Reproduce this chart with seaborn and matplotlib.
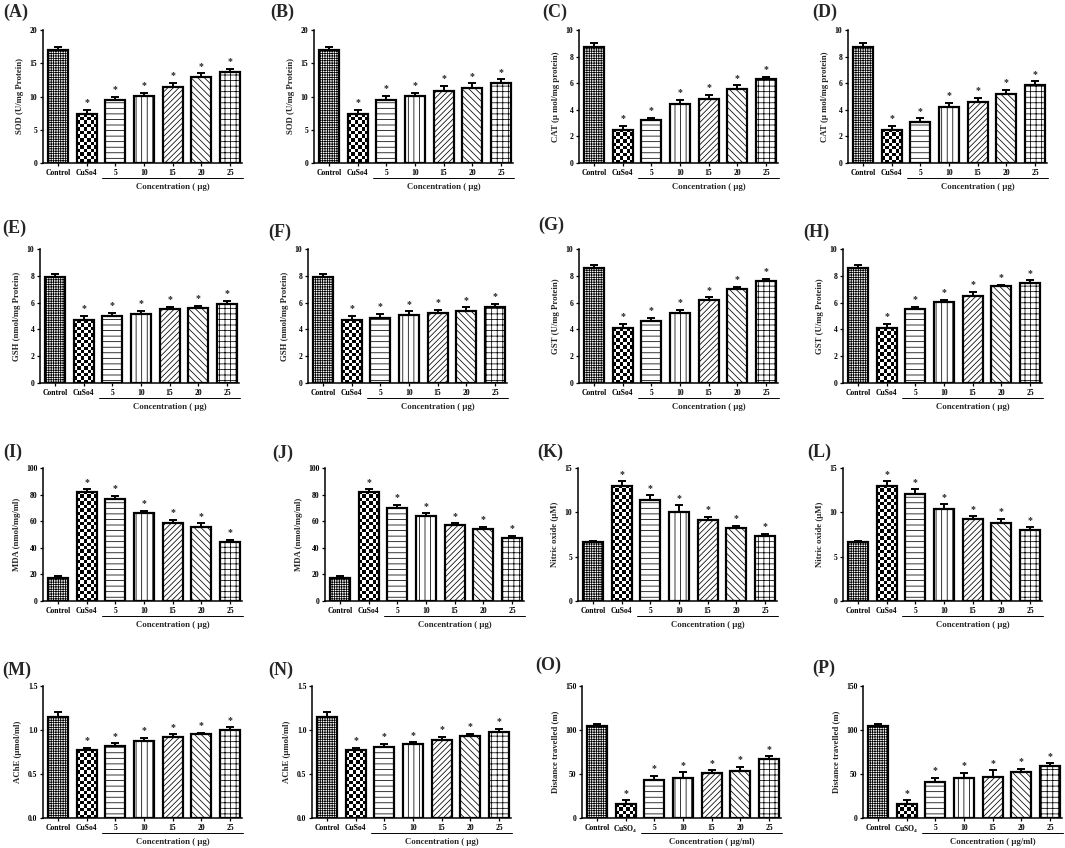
import matplotlib
matplotlib.use('Agg')
import matplotlib.pyplot as plt
import matplotlib.transforms as mtransforms
import seaborn as sns
import numpy as np
import pandas as pd

#----------------------------------------------------
groups = ['Control', 'CuSo4', '5', '10', '15', '20', '25']
groups_so4 = ['Control', 'CuSO$_4$', '5', '10', '15', '20', '25']

sod_a = [17.0, 7.4, 9.5, 10.1, 11.5, 13.0, 13.7]
sod_a_err = [0.5, 0.6, 0.5, 0.5, 0.6, 0.5, 0.5]
sod_b = [17.0, 7.4, 9.5, 10.1, 10.9, 11.3, 12.0]
sod_b_err = [0.5, 0.6, 0.6, 0.5, 0.7, 0.7, 0.6]

cat_c = [8.7, 2.5, 3.25, 4.4, 4.8, 5.6, 6.3]
cat_c_err = [0.3, 0.3, 0.15, 0.35, 0.35, 0.25, 0.2]
cat_d = [8.7, 2.5, 3.1, 4.2, 4.6, 5.2, 5.9]
cat_d_err = [0.3, 0.3, 0.25, 0.3, 0.3, 0.3, 0.25]

gsh_e = [7.9, 4.7, 5.0, 5.15, 5.5, 5.6, 5.9]
gsh_e_err = [0.25, 0.3, 0.25, 0.25, 0.2, 0.15, 0.25]
gsh_f = [7.9, 4.7, 4.85, 5.1, 5.2, 5.4, 5.65]
gsh_f_err = [0.25, 0.3, 0.3, 0.25, 0.25, 0.25, 0.25]

gst_g = [8.6, 4.1, 4.6, 5.2, 6.2, 7.0, 7.6]
gst_g_err = [0.2, 0.3, 0.25, 0.25, 0.2, 0.2, 0.15]
gst_h = [8.6, 4.1, 5.55, 6.05, 6.5, 7.25, 7.5]
gst_h_err = [0.2, 0.3, 0.15, 0.15, 0.3, 0.1, 0.15]

mda_i = [17, 82, 76.5, 66, 59, 56, 44]
mda_i_err = [2, 2, 2.5, 2, 2, 2.5, 2]
mda_j = [17, 82, 70, 64, 57, 54, 47]
mda_j_err = [2, 2, 2.5, 2, 1.5, 2, 2]

no_k = [6.6, 13.0, 11.4, 10.0, 9.1, 8.2, 7.3]
no_k_err = [0.2, 0.5, 0.5, 0.8, 0.4, 0.3, 0.3]
no_l = [6.6, 13.0, 12.1, 10.4, 9.3, 8.8, 8.0]
no_l_err = [0.2, 0.5, 0.5, 0.5, 0.25, 0.45, 0.3]

ache_m = [1.15, 0.77, 0.82, 0.88, 0.92, 0.95, 1.0]
ache_m_err = [0.05, 0.03, 0.03, 0.03, 0.03, 0.02, 0.03]
ache_n = [1.15, 0.77, 0.81, 0.84, 0.89, 0.93, 0.98]
ache_n_err = [0.05, 0.03, 0.03, 0.02, 0.03, 0.03, 0.03]

dist_o = [104, 16, 43, 46, 51, 53, 67]
dist_o_err = [3, 4, 5, 6, 3, 5, 3]
dist_p = [104, 16, 41, 45, 47, 52, 59]
dist_p_err = [3, 4, 5, 6, 7, 4, 3]

conc_ug = 'Concentration ( μg)'
conc_ugml = 'Concentration ( μg/ml)'

# label, means, errs, ylabel, yticks, tick fmt, xtick labels, conc text
panels = [
	('(A)', sod_a, sod_a_err, 'SOD (U/mg Protein)', [0, 5, 10, 15, 20], '{:.0f}', groups, conc_ug),
	('(B)', sod_b, sod_b_err, 'SOD (U/mg Protein)', [0, 5, 10, 15, 20], '{:.0f}', groups, conc_ug),
	('(C)', cat_c, cat_c_err, 'CAT (μ mol/mg protein)', [0, 2, 4, 6, 8, 10], '{:.0f}', groups, conc_ug),
	('(D)', cat_d, cat_d_err, 'CAT (μ mol/mg protein)', [0, 2, 4, 6, 8, 10], '{:.0f}', groups, conc_ug),
	('(E)', gsh_e, gsh_e_err, 'GSH (nmol/mg Protein)', [0, 2, 4, 6, 8, 10], '{:.0f}', groups, conc_ug),
	('(F)', gsh_f, gsh_f_err, 'GSH (nmol/mg Protein)', [0, 2, 4, 6, 8, 10], '{:.0f}', groups, conc_ug),
	('(G)', gst_g, gst_g_err, 'GST (U/mg Protein)', [0, 2, 4, 6, 8, 10], '{:.0f}', groups, conc_ug),
	('(H)', gst_h, gst_h_err, 'GST (U/mg Protein)', [0, 2, 4, 6, 8, 10], '{:.0f}', groups, conc_ug),
	('(I)', mda_i, mda_i_err, 'MDA (nmol/mg/ml)', [0, 20, 40, 60, 80, 100], '{:.0f}', groups, conc_ug),
	('(J)', mda_j, mda_j_err, 'MDA (nmol/mg/ml)', [0, 20, 40, 60, 80, 100], '{:.0f}', groups, conc_ug),
	('(K)', no_k, no_k_err, 'Nitric oxide (μM)', [0, 5, 10, 15], '{:.0f}', groups, conc_ug),
	('(L)', no_l, no_l_err, 'Nitric oxide (μM)', [0, 5, 10, 15], '{:.0f}', groups, conc_ug),
	('(M)', ache_m, ache_m_err, 'AChE (μmol/ml)', [0, 0.5, 1.0, 1.5], '{:.1f}', groups, conc_ug),
	('(N)', ache_n, ache_n_err, 'AChE (μmol/ml)', [0, 0.5, 1.0, 1.5], '{:.1f}', groups, conc_ug),
	('(O)', dist_o, dist_o_err, 'Distance travelled (m)', [0, 50, 100, 150], '{:.0f}', groups_so4, conc_ugml),
	('(P)', dist_p, dist_p_err, 'Distance travelled (m)', [0, 50, 100, 150], '{:.0f}', groups_so4, conc_ugml),
]

#----------------------------------------------------
W, H = 1065, 848
col_left = [[43, 314, 579, 848], [40, 308, 579, 843], [43, 325, 578, 843], [43, 312, 582, 863]]
row_tb = [(30, 163), (249, 383), (468, 601), (686, 818)]
lab_pos = [[(3, 12), (270, 12), (542, 12), (812, 12)],
	[(2, 228), (268, 232), (538, 225), (803, 232)],
	[(3, 452), (272, 453), (537, 452), (807, 452)],
	[(2, 670), (268, 670), (535, 665), (812, 668)]]
ax_w = 199
hatches = ['+++++++', None, '---', '|||', '//////', '\\\\\\\\\\', '+++']

sns.set_theme(style='ticks')
plt.rcParams['font.family'] = ['Liberation Serif', 'DejaVu Serif']
plt.rcParams['font.weight'] = 'bold'
plt.rcParams['axes.labelweight'] = 'bold'
plt.rcParams['mathtext.default'] = 'regular'
plt.rcParams['hatch.linewidth'] = 0.55


def checker(ax, p, sq=3.4):
	x0, y0 = p.get_x(), p.get_y()
	w, h = p.get_width(), p.get_height()
	(px0, py0), (px1, py1) = ax.transData.transform([(x0, y0), (x0 + w, y0 + h)])
	nx = max(1, int(round((px1 - px0) / sq)))
	ny = max(1, int(round((py1 - py0) / sq)))
	arr = np.add.outer(np.arange(ny), np.arange(nx)) % 2
	im = ax.imshow(arr, extent=(x0, x0 + w, y0, y0 + h), cmap='gray_r', origin='lower',
		interpolation='nearest', aspect='auto', zorder=0.5)
	im.set_clip_path(p)
	p.set_facecolor('none')


def plt_panel(fig, rect, lab, lab_xy, means, errs, ylabel, yticks, fmt, xlabels, conc):
	ax = fig.add_axes(rect)
	df = pd.DataFrame({'group': groups, 'value': means})
	sns.barplot(data=df, x='group', y='value', order=groups, color='white', saturation=1,
		edgecolor='black', linewidth=1.6, width=0.7, errorbar=None, ax=ax)
	xlim = (-0.52, 6.42)
	ylim = (0, yticks[-1])
	ax.set_xlim(xlim)
	ax.set_ylim(ylim)
	for p, h in zip(ax.patches, hatches):
		if h is None:
			checker(ax, p)
		else:
			p.set_hatch(h)
	ax.set_xlim(xlim)
	ax.set_ylim(ylim)
	x = np.arange(len(means))
	ax.errorbar(x, means, yerr=[np.zeros(len(errs)), errs], fmt='none', ecolor='black',
		elinewidth=1.4, capsize=3, capthick=1.4, zorder=3)
	for i in range(1, len(means)):
		ax.text(i, means[i] + errs[i] + 0.02 * ylim[1], '*', ha='center', va='bottom', fontsize=7)
	#axes
	sns.despine(ax=ax)
	for s in ['left', 'bottom']:
		ax.spines[s].set_linewidth(1.1)
		ax.spines[s].set_color('black')
	ax.set_yticks(yticks)
	ax.set_yticklabels([fmt.format(v) for v in yticks])
	ax.set_xticks(x)
	ax.set_xticklabels(xlabels)
	ax.tick_params(axis='both', length=2.5, width=0.9, pad=1.5, labelsize=5.5, colors='black')
	ax.set_xlabel('')
	ax.set_ylabel(ylabel, fontsize=6.3, labelpad=4)
	#concentration bracket
	trans = mtransforms.blended_transform_factory(ax.transData, ax.transAxes)
	ax.plot([1.55, 6.45], [-0.115, -0.115], transform=trans, color='black', lw=0.7, clip_on=False)
	ax.text(4, -0.15, conc, transform=trans, ha='center', va='top', fontsize=6.3)
	fig.text(lab_xy[0] / W, 1 - lab_xy[1] / H, lab, ha='left', va='center', fontsize=13, fontweight='bold')
	return ax


fig = plt.figure(figsize=(W / 100, H / 100), dpi=100)
for k, (lab, means, errs, ylabel, yticks, fmt, xlabels, conc) in enumerate(panels):
	r, c = divmod(k, 4)
	top, bot = row_tb[r]
	rect = [col_left[r][c] / W, 1 - bot / H, ax_w / W, (bot - top) / H]
	plt_panel(fig, rect, lab, lab_pos[r][c], means, errs, ylabel, yticks, fmt, xlabels, conc)

fig.savefig('out.png', dpi=100)
plt.close()
